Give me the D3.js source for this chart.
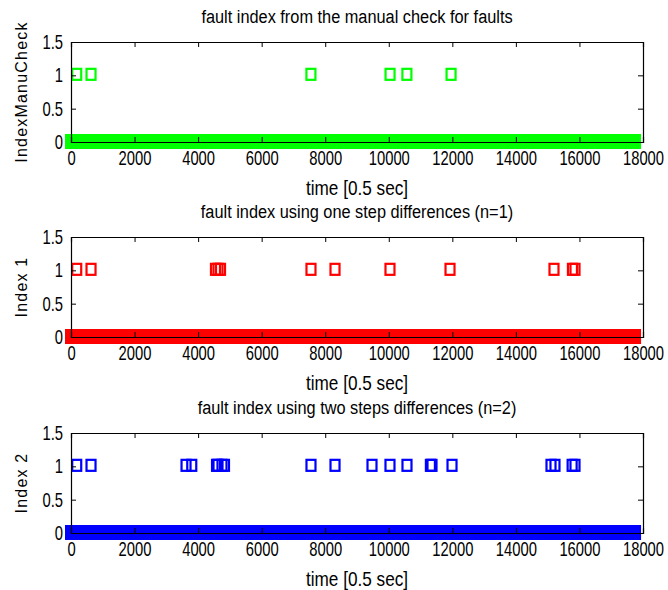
<!DOCTYPE html>
<html>
<head>
<meta charset="utf-8">
<script src="https://cdn.jsdelivr.net/npm/d3@7"></script>
<style>
  body { margin: 0; background: #fff; }
  text { font-family: "Liberation Sans", Arial, sans-serif; }
</style>
</head>
<body>
<svg id="chart" width="668" height="590"></svg>
<script>
// fault positions (time index) where the index == 1
var manualFaults = [180, 630, 7550, 10040, 10570, 11960]
var oneStepFaults = [180, 630, 4547, 4626, 4705, 7552, 8308, 10038, 11927, 15199, 15780, 15860]
var twoStepFaults = [180, 630, 3620, 3800, 4580, 4626, 4752, 4830, 7552, 8308, 9472, 10038, 10573, 11310, 11360, 11990, 15105, 15230, 15770, 15860]
// the rest of the samples sit at 0, from start to end of the record
var zeroRange = [0, 17750]

var xTicks = [0, 2000, 4000, 6000, 8000, 10000, 12000, 14000, 16000, 18000]
var yTicks = [0, 0.5, 1, 1.5]

var titles = ["fault index from the manual check for faults",
              "fault index using one step differences (n=1)",
              "fault index using two steps differences (n=2)"]
var yLabels = ["IndexManuCheck", "Index 1", "Index 2"]
var colors = ["#00ff00", "#ff0000", "#0000ff"]
var series = [manualFaults, oneStepFaults, twoStepFaults]

var left = 71, right = 643, h = 100
var tops = [42, 237, 433]

var svg = d3.select('#chart')

// matlab text is tall and narrow -> squeeze horizontally around its x
function squeeze(sel, f) {
    sel.each(function () {
        var t = d3.select(this)
        var x = +(t.attr('x') || 0)
        t.attr('x', x / f).attr('transform', 'scale(' + f + ',1)')
    })
}

var x_scale = d3.scaleLinear()
    .domain([0, 18000])
    .range([left, right])

series.forEach(function (data, i) {
    var top = tops[i]
    var y_scale = d3.scaleLinear()
        .domain([0, 1.5])
        .range([top + h, top])

    var g = svg.append('g')

    // zero samples -> dense squares make one thick band
    g.append('rect')
        .attr('x', x_scale(zeroRange[0]) - 6)
        .attr('width', x_scale(zeroRange[1]) - x_scale(zeroRange[0]) + 12)
        .attr('y', y_scale(0) - 8)
        .attr('height', 15)
        .attr('fill', colors[i])

    // the fault markers
    g.selectAll('.mk')
        .data(data)
        .enter()
        .append('rect')
        .attr('class', 'mk')
        .attr('x', function (d) { return x_scale(d) - 4.5 })
        .attr('y', y_scale(1) - 6.5)
        .attr('width', 9)
        .attr('height', 11)
        .attr('fill', 'none')
        .attr('stroke', colors[i])
        .attr('stroke-width', 2.2)

    // axes (matlab box style, ticks inward on all sides)
    var x_axis = d3.axisBottom(x_scale).tickValues(xTicks).tickSize(-5).tickPadding(9).tickFormat(d3.format('d'))
    var x_top = d3.axisTop(x_scale).tickValues(xTicks).tickSize(-5).tickFormat('')
    var y_axis = d3.axisLeft(y_scale).tickValues(yTicks).tickSize(-5).tickPadding(8).tickFormat(function (d) { return String(d) })
    var y_right = d3.axisRight(y_scale).tickValues(yTicks).tickSize(-5).tickFormat('')

    var ax = [
        g.append('g').attr('transform', 'translate(0,' + (top + h) + ')').call(x_axis),
        g.append('g').attr('transform', 'translate(0,' + top + ')').call(x_top),
        g.append('g').attr('transform', 'translate(' + left + ',0)').call(y_axis),
        g.append('g').attr('transform', 'translate(' + right + ',0)').call(y_right)
    ]
    ax.forEach(function (a) {
        a.select('.domain').attr('stroke', '#000').attr('stroke-width', 1.2)
        a.selectAll('.tick line').attr('stroke', '#000')
        a.selectAll('text')
            .attr('font-family', null)
            .attr('font-size', 20)
            .attr('fill', '#000')
            .call(squeeze, 0.74)
    })

    g.append('text')
        .attr('x', (left + right) / 2)
        .attr('y', top - 19)
        .attr('text-anchor', 'middle')
        .attr('font-size', 19)
        .text(titles[i])
        .call(squeeze, 0.86)

    g.append('text')
        .attr('x', (left + right) / 2)
        .attr('y', top + h + 53)
        .attr('text-anchor', 'middle')
        .attr('font-size', 20)
        .text('time [0.5 sec]')
        .call(squeeze, 0.86)

    g.append('text')
        .attr('transform', 'translate(27,' + (top + h / 2) + ') rotate(-90)')
        .attr('text-anchor', 'middle')
        .attr('font-size', 16)
        .attr('letter-spacing', 1.2)
        .text(yLabels[i])
})
</script>
</body>
</html>
